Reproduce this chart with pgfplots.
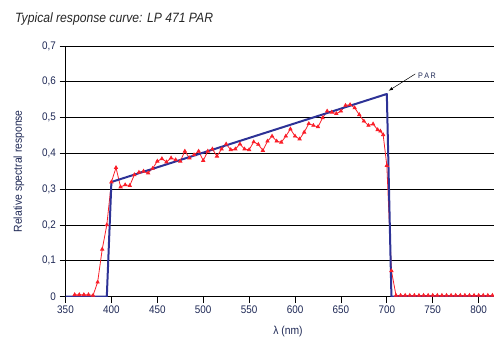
\documentclass[border=0pt]{standalone}
\usepackage{fontspec}
\setmainfont[FakeStretch=0.9]{Liberation Sans}
\usepackage{pgfplots}
\pgfplotsset{compat=1.18}
\definecolor{navy}{RGB}{30,40,85}
\definecolor{parblue}{RGB}{45,50,150}
\definecolor{measred}{RGB}{250,30,40}
\begin{document}
\begin{tikzpicture}
\useasboundingbox (0pt,0pt) rectangle (494pt,354pt);
\node[anchor=base west, inner sep=0pt, font=\itshape\fontsize{13.5}{15}\selectfont, text=black!85] at (15pt,331.3pt) {Typical response curve: LP 471 PAR};
\begin{axis}[
  at={(65.5pt,57.5pt)}, anchor=origin,
  scale only axis, width=431.5pt, height=250.5pt,
  xmin=350, xmax=820, ymin=0, ymax=0.7,
  xtick={350,400,...,800}, ytick={0,0.1,0.2,0.3,0.4,0.5,0.6,0.7},
  axis x line*=bottom, axis y line*=left,
  axis line style={black, line width=1pt},
  ymajorgrids, major grid style={black, line width=0.8pt},
  tick align=outside, major tick length=6pt,
  major tick style={black, line width=0.8pt},
  tick label style={font=\fontsize{11}{12}\selectfont, text=navy},
  /pgf/number format/.cd, use comma, fixed, precision=1, assume math mode=true,
  /pgfplots/.cd,
  xticklabel style={/pgf/number format/.cd, fixed, precision=0, 1000 sep={}},
  xlabel={λ (nm)},
  xlabel style={at={(axis description cs:0.5157,-0.1405)}, anchor=center, font=\fontsize{11.5}{13}\selectfont, text=navy},
  ylabel={Relative spectral response},
  ylabel style={at={(axis description cs:-0.1078,0.5)}, anchor=center, font=\fontsize{11.5}{13}\selectfont, text=navy},
]
\addplot[measred, line width=0.8pt, mark=triangle*, mark size=1.8pt, mark options={solid, fill=measred}] coordinates {
(360,0.005) (365,0.005) (370,0.005) (375,0.005) (380,0.003) (385,0.04) (390,0.132) (395,0.2)
(400,0.32) (405,0.36) (410,0.306) (415,0.312) (420,0.31) (425,0.34) (430,0.347) (435,0.35)
(440,0.345) (445,0.358) (450,0.378) (455,0.385) (460,0.376) (465,0.387) (470,0.382) (475,0.378)
(480,0.406) (485,0.387) (490,0.396) (495,0.406) (500,0.38) (505,0.406) (510,0.412) (515,0.392)
(520,0.412) (525,0.426) (530,0.41) (535,0.412) (540,0.426) (545,0.412) (550,0.41) (555,0.432)
(560,0.425) (565,0.408) (570,0.434) (575,0.448) (580,0.434) (585,0.431) (590,0.448) (595,0.468)
(600,0.448) (605,0.44) (610,0.459) (615,0.483) (620,0.478) (625,0.474) (630,0.499) (635,0.518)
(640,0.515) (645,0.511) (650,0.518) (655,0.534) (660,0.536) (665,0.527) (670,0.508) (675,0.49)
(680,0.478) (685,0.482) (690,0.466) (693,0.462) (696,0.452) (700,0.366) (705,0.072) (710,0.003)
(715,0.003) (720,0.003) (725,0.003) (730,0.003) (735,0.003) (740,0.003) (745,0.003) (750,0.003)
(755,0.003) (760,0.003) (765,0.003) (770,0.003) (775,0.003) (780,0.003) (785,0.003) (790,0.003)
(795,0.003) (800,0.003) (805,0.003) (810,0.003) (815,0.003) (820,0.003)
};
\addplot[parblue, line width=2pt, line join=round] coordinates {
(350,0) (395,0) (400,0.32) (700,0.566) (705,0) (820,0)
};
\draw[-latex, black, line width=0.5pt] (axis cs:731,0.622) -- (axis cs:702,0.575);
\node[anchor=west, inner sep=0pt, font=\fontsize{8}{9}\selectfont, text=navy] at (axis cs:734,0.617) {P\,A\,R};
\end{axis}
\end{tikzpicture}
\end{document}
